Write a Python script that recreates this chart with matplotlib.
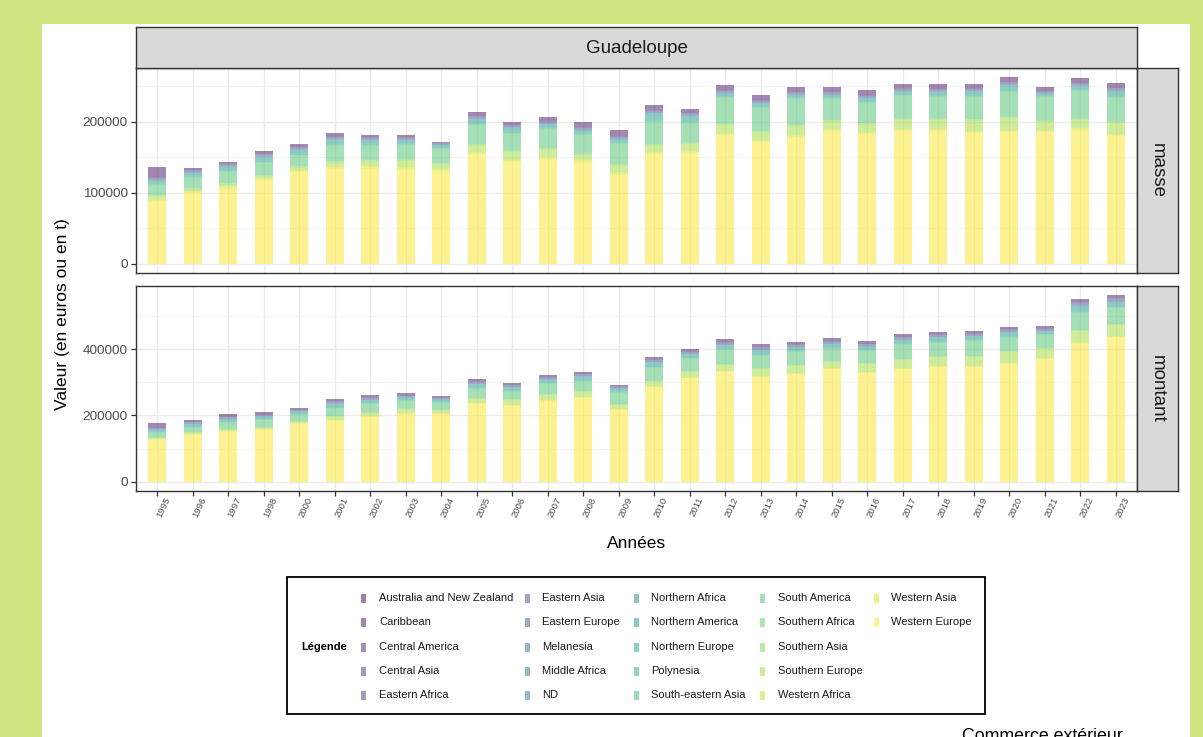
import numpy as np
import matplotlib
matplotlib.use("Agg")
import matplotlib.pyplot as plt
from matplotlib.patches import Rectangle
from matplotlib.transforms import ScaledTranslation
from matplotlib.ticker import FixedLocator

plt.rcParams['font.family'] = ['Liberation Sans', 'DejaVu Sans']

# ---------------- data (values in thousands) ----------------
years = ["1995", "1996", "1997", "1998", "2000", "2001", "2002", "2003", "2004",
         "2005", "2006", "2007", "2008", "2009", "2010", "2011", "2012", "2013",
         "2014", "2015", "2016", "2017", "2018", "2019", "2020", "2021", "2022", "2023"]

categories = ["Australia and New Zealand", "Caribbean", "Central America", "Central Asia",
              "Eastern Africa", "Eastern Asia", "Eastern Europe", "Melanesia",
              "Middle Africa", "ND", "Northern Africa", "Northern America",
              "Northern Europe", "Polynesia", "South-eastern Asia", "South America",
              "Southern Africa", "Southern Asia", "Southern Europe", "Western Africa",
              "Western Asia", "Western Europe"]

facet_labels = ["masse", "montant"]
panel_title = "Guadeloupe"

# masse (thousand t)
m_australia = [0.4, 0.3, 0.3, 0.3, 0.3, 0.4, 0.3, 0.3, 0.2, 0.4, 0.3, 0.4, 0.4, 0.4, 0.4, 0.3, 0.4, 0.4, 0.3, 0.3, 0.4, 0.3, 0.4, 0.3, 0.3, 0.3, 0.4, 0.3]
m_caribbean = [13.4, 1.7, 2.2, 2.6, 3.6, 3.6, 3.6, 3.6, 0.2, 4.5, 3.6, 5.9, 6.9, 7.3, 6.4, 5.0, 7.3, 7.3, 6.4, 6.4, 6.8, 5.9, 6.8, 5.9, 5.9, 4.5, 5.9, 5.9]
m_central_america = [0.9, 0.8, 0.7, 0.8, 0.8, 0.9, 0.8, 0.8, 0.7, 0.9, 0.8, 0.8, 0.9, 0.8, 0.8, 0.8, 0.9, 0.8, 0.8, 0.8, 0.9, 0.8, 0.8, 0.8, 0.8, 0.7, 0.8, 0.8]
m_central_asia = [0.1, 0.1, 0.0, 0.1, 0.1, 0.1, 0.0, 0.1, 0.1, 0.1, 0.1, 0.1, 0.0, 0.1, 0.1, 0.1, 0.1, 0.1, 0.1, 0.0, 0.1, 0.1, 0.1, 0.1, 0.1, 0.1, 0.1, 0.1]
m_eastern_africa = [0.3, 0.3, 0.3, 0.2, 0.3, 0.3, 0.3, 0.3, 0.2, 0.3, 0.3, 0.3, 0.3, 0.3, 0.3, 0.3, 0.3, 0.3, 0.3, 0.3, 0.3, 0.3, 0.3, 0.3, 0.3, 0.3, 0.3, 0.3]
m_eastern_asia = [1.4, 1.5, 1.5, 1.6, 1.5, 1.5, 1.6, 1.5, 1.4, 1.6, 1.5, 1.5, 1.5, 1.6, 1.6, 1.5, 1.6, 1.5, 1.5, 1.5, 1.6, 1.5, 1.5, 1.5, 1.6, 1.4, 1.5, 1.6]
m_eastern_europe = [1.0, 1.0, 0.9, 1.0, 1.0, 1.1, 1.0, 1.0, 0.9, 1.0, 1.0, 1.0, 1.0, 1.0, 1.1, 1.0, 1.0, 1.0, 1.0, 1.0, 1.0, 1.0, 1.0, 1.0, 1.1, 0.9, 1.0, 1.1]
m_melanesia = [0.1, 0.1, 0.1, 0.1, 0.1, 0.1, 0.1, 0.1, 0.1, 0.1, 0.1, 0.1, 0.1, 0.1, 0.1, 0.1, 0.1, 0.1, 0.1, 0.1, 0.1, 0.1, 0.1, 0.1, 0.1, 0.1, 0.1, 0.1]
m_middle_africa = [0.2, 0.2, 0.2, 0.2, 0.2, 0.2, 0.2, 0.2, 0.2, 0.2, 0.2, 0.2, 0.2, 0.2, 0.2, 0.2, 0.2, 0.2, 0.2, 0.2, 0.2, 0.2, 0.2, 0.2, 0.2, 0.2, 0.2, 0.2]
m_nd = [0.3, 0.3, 0.3, 0.3, 0.3, 0.3, 0.3, 0.3, 0.3, 0.3, 0.3, 0.3, 0.3, 0.3, 0.3, 0.3, 0.3, 0.3, 0.3, 0.3, 0.3, 0.3, 0.3, 0.3, 0.3, 0.3, 0.3, 0.3]
m_northern_africa = [0.8, 0.8, 0.8, 0.8, 0.8, 0.9, 0.8, 0.8, 0.7, 0.8, 0.8, 0.8, 0.8, 0.8, 0.9, 0.8, 0.8, 0.8, 0.8, 0.8, 0.8, 0.8, 0.8, 0.8, 0.9, 0.7, 0.8, 0.8]
m_northern_america = [2.6, 2.6, 3.5, 4.1, 4.0, 4.5, 3.1, 2.6, 1.7, 4.1, 4.0, 2.6, 2.1, 2.2, 7.3, 6.3, 2.6, 2.1, 2.1, 2.1, 2.6, 2.6, 3.6, 3.6, 4.9, 1.2, 3.1, 5.0]
m_northern_europe = [2.0, 1.9, 2.0, 2.1, 2.0, 2.1, 2.0, 2.0, 1.9, 2.1, 2.0, 2.0, 1.9, 2.0, 2.1, 2.0, 2.0, 1.9, 2.0, 2.0, 2.0, 2.0, 2.1, 2.0, 2.1, 1.9, 2.0, 2.1]
m_polynesia = [0.1, 0.1, 0.1, 0.1, 0.1, 0.1, 0.1, 0.1, 0.1, 0.1, 0.1, 0.1, 0.1, 0.1, 0.1, 0.1, 0.1, 0.1, 0.1, 0.1, 0.1, 0.1, 0.1, 0.1, 0.1, 0.1, 0.1, 0.1]
m_se_asia = [1.5, 1.4, 1.5, 1.5, 1.5, 1.6, 1.5, 1.5, 1.4, 1.5, 1.5, 1.5, 1.5, 1.5, 1.6, 1.5, 1.5, 1.5, 1.6, 1.5, 1.5, 1.5, 1.5, 1.5, 1.6, 1.5, 1.5, 1.6]
m_south_america = [13.7, 14.2, 14.7, 16.9, 14.2, 21.6, 19.8, 19.8, 18.9, 26.8, 23.6, 25.9, 26.4, 28.7, 31.0, 26.8, 34.8, 32.4, 35.7, 28.7, 27.3, 31.0, 29.1, 31.0, 35.3, 31.9, 38.0, 33.3]
m_southern_africa = [0.5, 0.5, 0.5, 0.5, 0.5, 0.5, 0.5, 0.5, 0.5, 0.5, 0.5, 0.5, 0.5, 0.5, 0.5, 0.5, 0.5, 0.5, 0.5, 0.5, 0.5, 0.5, 0.5, 0.5, 0.5, 0.5, 0.5, 0.5]
m_southern_asia = [2.0, 2.1, 2.0, 2.0, 2.0, 2.1, 2.0, 2.0, 2.0, 2.1, 2.0, 2.0, 2.0, 2.0, 2.1, 2.0, 2.0, 2.0, 2.1, 2.0, 2.0, 2.0, 2.0, 2.0, 2.1, 2.0, 2.0, 2.1]
m_southern_europe = [3.6, 2.6, 2.6, 2.6, 3.5, 5.0, 6.8, 8.7, 6.3, 8.7, 11.0, 11.1, 7.3, 9.1, 9.2, 9.7, 11.5, 10.6, 12.0, 10.6, 10.6, 13.0, 13.0, 14.8, 16.2, 11.1, 12.0, 15.3]
m_western_africa = [1.0, 1.0, 1.0, 1.0, 1.0, 1.0, 1.0, 1.0, 1.0, 1.0, 1.0, 1.0, 1.0, 1.0, 1.0, 1.0, 1.0, 1.0, 1.0, 1.0, 1.0, 1.0, 1.0, 1.0, 1.0, 1.0, 1.0, 1.0]
m_western_asia = [2.0, 2.0, 2.0, 2.0, 2.0, 2.0, 2.0, 2.0, 2.0, 2.0, 2.0, 2.0, 2.0, 2.0, 2.0, 2.0, 2.0, 2.0, 2.0, 2.0, 2.0, 2.0, 2.0, 2.0, 2.0, 2.0, 2.0, 2.0]
m_western_europe = [88.0, 98.8, 105.8, 117.1, 128.8, 133.9, 133.9, 132.5, 130.2, 154.0, 142.8, 146.5, 142.3, 125.5, 154.0, 155.4, 180.7, 170.9, 177.9, 186.3, 182.1, 186.3, 186.3, 183.5, 184.9, 185.4, 187.3, 179.3]

# montant (thousand euros)
v_australia = [0.5, 0.5, 0.5, 0.5, 0.5, 0.5, 0.5, 0.5, 0.5, 0.5, 0.5, 0.5, 0.5, 0.5, 0.5, 0.5, 0.5, 0.5, 0.5, 0.5, 0.5, 0.5, 0.5, 0.5, 0.5, 0.5, 0.5, 0.5]
v_caribbean = [14.1, 6.1, 7.0, 7.1, 5.1, 6.0, 7.0, 5.1, 5.0, 6.0, 5.1, 6.0, 6.0, 4.0, 7.0, 7.1, 8.1, 8.1, 7.0, 8.1, 8.1, 8.1, 7.0, 7.1, 6.0, 8.1, 8.0, 8.0]
v_central_america = [1.0, 1.0, 1.0, 1.0, 1.0, 1.0, 1.0, 1.0, 1.0, 1.0, 1.0, 1.0, 1.0, 1.0, 1.0, 1.0, 1.0, 1.0, 1.0, 1.0, 1.0, 1.0, 1.0, 1.0, 1.0, 1.0, 1.0, 1.0]
v_central_asia = [0.1, 0.1, 0.1, 0.1, 0.1, 0.1, 0.1, 0.1, 0.1, 0.1, 0.1, 0.1, 0.1, 0.1, 0.1, 0.1, 0.1, 0.1, 0.1, 0.1, 0.1, 0.1, 0.1, 0.1, 0.1, 0.1, 0.1, 0.1]
v_eastern_africa = [0.4, 0.4, 0.4, 0.4, 0.4, 0.4, 0.4, 0.4, 0.4, 0.4, 0.4, 0.4, 0.4, 0.4, 0.4, 0.4, 0.4, 0.4, 0.4, 0.4, 0.4, 0.4, 0.4, 0.4, 0.4, 0.4, 0.4, 0.4]
v_eastern_asia = [2, 3, 3, 3, 3, 4, 4, 3, 2, 4, 4, 4, 5, 4, 6, 5, 5, 6, 5, 5, 5, 6, 6, 5, 6, 5, 8, 8]
v_eastern_europe = [1.0, 1.0, 1.0, 1.0, 1.0, 1.0, 1.0, 1.0, 1.0, 1.0, 1.0, 1.0, 1.0, 1.0, 1.0, 1.0, 1.0, 1.0, 1.0, 1.0, 1.0, 1.0, 1.0, 1.0, 1.0, 1.0, 1.0, 1.0]
v_melanesia = [0.1, 0.1, 0.1, 0.1, 0.1, 0.1, 0.1, 0.1, 0.1, 0.1, 0.1, 0.1, 0.1, 0.1, 0.1, 0.1, 0.1, 0.1, 0.1, 0.1, 0.1, 0.1, 0.1, 0.1, 0.1, 0.1, 0.1, 0.1]
v_middle_africa = [0.2, 0.2, 0.2, 0.2, 0.2, 0.2, 0.2, 0.2, 0.2, 0.2, 0.2, 0.2, 0.2, 0.2, 0.2, 0.2, 0.2, 0.2, 0.2, 0.2, 0.2, 0.2, 0.2, 0.2, 0.2, 0.2, 0.2, 0.2]
v_nd = [0.3, 0.3, 0.3, 0.3, 0.3, 0.3, 0.3, 0.3, 0.3, 0.3, 0.3, 0.3, 0.3, 0.3, 0.3, 0.3, 0.3, 0.3, 0.3, 0.3, 0.3, 0.3, 0.3, 0.3, 0.3, 0.3, 0.3, 0.3]
v_northern_africa = [0.7, 0.7, 0.7, 0.7, 0.7, 0.7, 0.7, 0.7, 0.7, 0.7, 0.7, 0.7, 0.7, 0.7, 0.7, 0.7, 0.7, 0.7, 0.7, 0.7, 0.7, 0.7, 0.7, 0.7, 0.7, 0.7, 0.7, 0.7]
v_northern_america = [3.7, 5.7, 5.8, 5.8, 5.8, 9.8, 7.9, 5.8, 3.8, 8.8, 7.8, 8.8, 9.9, 6.8, 11.9, 10.8, 10.8, 10.8, 7.8, 8.8, 7.8, 9.8, 9.9, 8.8, 9.9, 6.8, 14.9, 13.9]
v_northern_europe = [2.0, 2.0, 2.0, 2.0, 2.0, 2.0, 2.0, 2.0, 2.0, 2.0, 2.0, 2.0, 2.0, 2.0, 2.0, 2.0, 2.0, 2.0, 2.0, 2.0, 2.0, 2.0, 2.0, 2.0, 2.0, 2.0, 2.0, 2.0]
v_polynesia = [0.1, 0.1, 0.1, 0.1, 0.1, 0.1, 0.1, 0.1, 0.1, 0.1, 0.1, 0.1, 0.1, 0.1, 0.1, 0.1, 0.1, 0.1, 0.1, 0.1, 0.1, 0.1, 0.1, 0.1, 0.1, 0.1, 0.1, 0.1]
v_se_asia = [3.0, 3.0, 3.0, 3.0, 3.0, 3.0, 3.0, 3.0, 3.0, 3.0, 3.0, 3.0, 3.0, 3.0, 3.0, 3.0, 3.0, 3.0, 3.0, 3.0, 3.0, 3.0, 3.0, 3.0, 3.0, 3.0, 3.0, 3.0]
v_south_america = [14.1, 12.1, 19.1, 19.1, 16.0, 21.1, 24.1, 22.1, 22.1, 28.2, 22.1, 29.2, 29.1, 34.2, 37.2, 35.2, 41.2, 38.2, 40.3, 37.2, 37.2, 42.2, 41.2, 44.3, 39.2, 39.2, 52.3, 47.3]
v_southern_africa = [0.5, 0.5, 0.5, 0.5, 0.5, 0.5, 0.5, 0.5, 0.5, 0.5, 0.5, 0.5, 0.5, 0.5, 0.5, 0.5, 0.5, 0.5, 0.5, 0.5, 0.5, 0.5, 0.5, 0.5, 0.5, 0.5, 0.5, 0.5]
v_southern_asia = [2.5, 2.5, 2.5, 2.5, 2.5, 2.5, 2.5, 2.5, 2.5, 2.5, 2.5, 2.5, 2.5, 2.5, 2.5, 2.5, 2.5, 2.5, 2.5, 2.5, 2.5, 2.5, 2.5, 2.5, 2.5, 2.5, 2.5, 2.5]
v_southern_europe = [2.0, 4.0, 3.1, 3.0, 4.1, 9.1, 7.0, 11.1, 7.1, 12.1, 14.1, 14.1, 13.1, 12.1, 14.1, 16.1, 17.2, 19.2, 22.1, 19.1, 22.2, 25.2, 25.2, 27.2, 33.2, 25.2, 34.3, 34.3]
v_western_africa = [1.0, 1.0, 1.0, 1.0, 1.0, 1.0, 1.0, 1.0, 1.0, 1.0, 1.0, 1.0, 1.0, 1.0, 1.0, 1.0, 1.0, 1.0, 1.0, 1.0, 1.0, 1.0, 1.0, 1.0, 1.0, 1.0, 1.0, 1.0]
v_western_asia = [2.0, 2.0, 2.0, 2.0, 2.0, 2.0, 2.0, 2.0, 2.0, 2.0, 2.0, 2.0, 2.0, 2.0, 2.0, 2.0, 2.0, 2.0, 2.0, 2.0, 2.0, 2.0, 2.0, 2.0, 2.0, 2.0, 2.0, 2.0]
v_western_europe = [125.9, 141.0, 150.0, 157.1, 174.2, 184.3, 196.4, 204.4, 203.4, 234.6, 229.6, 244.7, 253.8, 216.5, 285.0, 312.2, 332.3, 317.2, 324.3, 339.4, 329.3, 339.4, 347.4, 347.4, 356.5, 371.6, 417.9, 436.0]

masse_series = [m_australia, m_caribbean, m_central_america, m_central_asia, m_eastern_africa,
                m_eastern_asia, m_eastern_europe, m_melanesia, m_middle_africa, m_nd,
                m_northern_africa, m_northern_america, m_northern_europe, m_polynesia,
                m_se_asia, m_south_america, m_southern_africa, m_southern_asia,
                m_southern_europe, m_western_africa, m_western_asia, m_western_europe]
montant_series = [v_australia, v_caribbean, v_central_america, v_central_asia, v_eastern_africa,
                  v_eastern_asia, v_eastern_europe, v_melanesia, v_middle_africa, v_nd,
                  v_northern_africa, v_northern_america, v_northern_europe, v_polynesia,
                  v_se_asia, v_south_america, v_southern_africa, v_southern_asia,
                  v_southern_europe, v_western_africa, v_western_asia, v_western_europe]

# ---------------- layout ----------------
W, H = 1203, 737
fig = plt.figure(figsize=(W / 100, H / 100), dpi=100)
fig.patch.set_facecolor('#cde47f')


def box(x0, y0, x1, y1):
    return [x0 / W, 1 - y1 / H, (x1 - x0) / W, (y1 - y0) / H]


bg = fig.add_axes([0, 0, 1, 1], zorder=-5)
bg.set_xlim(0, W)
bg.set_ylim(H, 0)
bg.axis('off')
bg.add_patch(Rectangle((42, 24), 1148, 720, facecolor='white', edgecolor='none'))

colors = plt.cm.viridis(np.linspace(0, 1, len(categories)))
ALPHA = 0.5
BORDER = '#333333'
x = np.arange(len(years))

panel_boxes = [(136, 68, 1137, 273), (136, 286, 1137, 491)]
strip_boxes = [(1137, 68, 1178, 273), (1137, 286, 1178, 491)]
major_ticks = [[0, 100000, 200000], [0, 200000, 400000]]
minor_ticks = [[50000, 150000, 250000], [100000, 300000, 500000]]

for i, (series, pb, sb) in enumerate(zip([masse_series, montant_series], panel_boxes, strip_boxes)):
    ax = fig.add_axes(box(*pb))
    ax.set_facecolor('white')
    bottom = np.zeros(len(years))
    for ci in range(len(categories) - 1, -1, -1):
        vals = np.array(series[ci]) * 1000
        ax.bar(x, vals, width=0.5, bottom=bottom, color=colors[ci], alpha=ALPHA,
               linewidth=0, zorder=2)
        bottom = bottom + vals
    top = bottom.max()
    ax.set_ylim(-0.05 * top, top * 1.05)
    ax.set_xlim(-0.6, len(years) - 0.4)
    ax.set_yticks(major_ticks[i])
    ax.set_yticklabels([str(t) for t in major_ticks[i]])
    ax.yaxis.set_minor_locator(FixedLocator(minor_ticks[i]))
    ax.set_xticks(x)
    ax.grid(True, which='major', color='#ebebeb', linewidth=1.0, zorder=0)
    ax.grid(True, which='minor', axis='y', color='#f2f2f2', linewidth=0.6, zorder=0)
    ax.set_axisbelow(True)
    ax.tick_params(axis='y', which='major', length=3.5, width=0.9, color=BORDER,
                   labelsize=9.7, labelcolor='#4d4d4d', pad=2.5)
    ax.tick_params(axis='y', which='minor', length=0)
    ax.tick_params(axis='x', length=3.5, width=0.9, color=BORDER, pad=1.5)
    for s in ax.spines.values():
        s.set_color(BORDER)
        s.set_linewidth(1.0)
    if i == 0:
        ax.set_xticklabels([])
        ax.tick_params(axis='x', length=0)
    else:
        ax.set_xticklabels(years, rotation=65, ha='right', va='center',
                           rotation_mode='anchor', fontsize=6.8, color='#4d4d4d')
        for lab in ax.get_xticklabels():
            lab.set_transform(lab.get_transform() +
                              ScaledTranslation(11 / 100, 0, fig.dpi_scale_trans))

    sax = fig.add_axes(box(*sb))
    sax.set_facecolor('#d9d9d9')
    sax.set_xticks([])
    sax.set_yticks([])
    for s in sax.spines.values():
        s.set_color(BORDER)
        s.set_linewidth(1.0)
    sax.text(0.5, 0.5, facet_labels[i], rotation=-90, ha='center', va='center',
             fontsize=13.5, color='#1a1a1a', transform=sax.transAxes)

tax = fig.add_axes(box(136, 27, 1137, 68))
tax.set_facecolor('#d9d9d9')
tax.set_xticks([])
tax.set_yticks([])
for s in tax.spines.values():
    s.set_color(BORDER)
    s.set_linewidth(1.0)
tax.text(0.5, 0.47, panel_title, ha='center', va='center', fontsize=13.5,
         color='#1a1a1a', transform=tax.transAxes)

# axis titles
bg.text(62, 314, "Valeur (en euros ou en t)", rotation=90, ha='center', va='center',
        fontsize=12.5, color='black')
bg.text(636.5, 543, "Années", ha='center', va='center', fontsize=12.5, color='black')

# legend
bg.add_patch(Rectangle((287, 577), 698, 137, facecolor='white', edgecolor='black',
                       linewidth=1.3))
bg.text(301, 647, "Légende", ha='left', va='center', fontsize=8, fontweight='bold',
        color='black')
key_x = [363, 527, 636, 762, 876]
text_x = [379, 542, 651, 778, 891]
row_y = [598, 622, 647, 671, 695]
for k, cat in enumerate(categories):
    col, row = divmod(k, 5)
    bg.add_patch(Rectangle((key_x[col] - 2.5, row_y[row] - 4.5), 5, 9,
                           facecolor=colors[k], alpha=ALPHA, edgecolor='none'))
    bg.text(text_x[col], row_y[row], cat, ha='left', va='center', fontsize=8,
            color='#1a1a1a')

# caption (cut by the bottom edge)
bg.text(1123, 741, "Commerce extérieur", ha='right', va='baseline', fontsize=12.8,
        color='black', clip_on=False)

fig.savefig("out.png", dpi=100, facecolor=fig.get_facecolor())
